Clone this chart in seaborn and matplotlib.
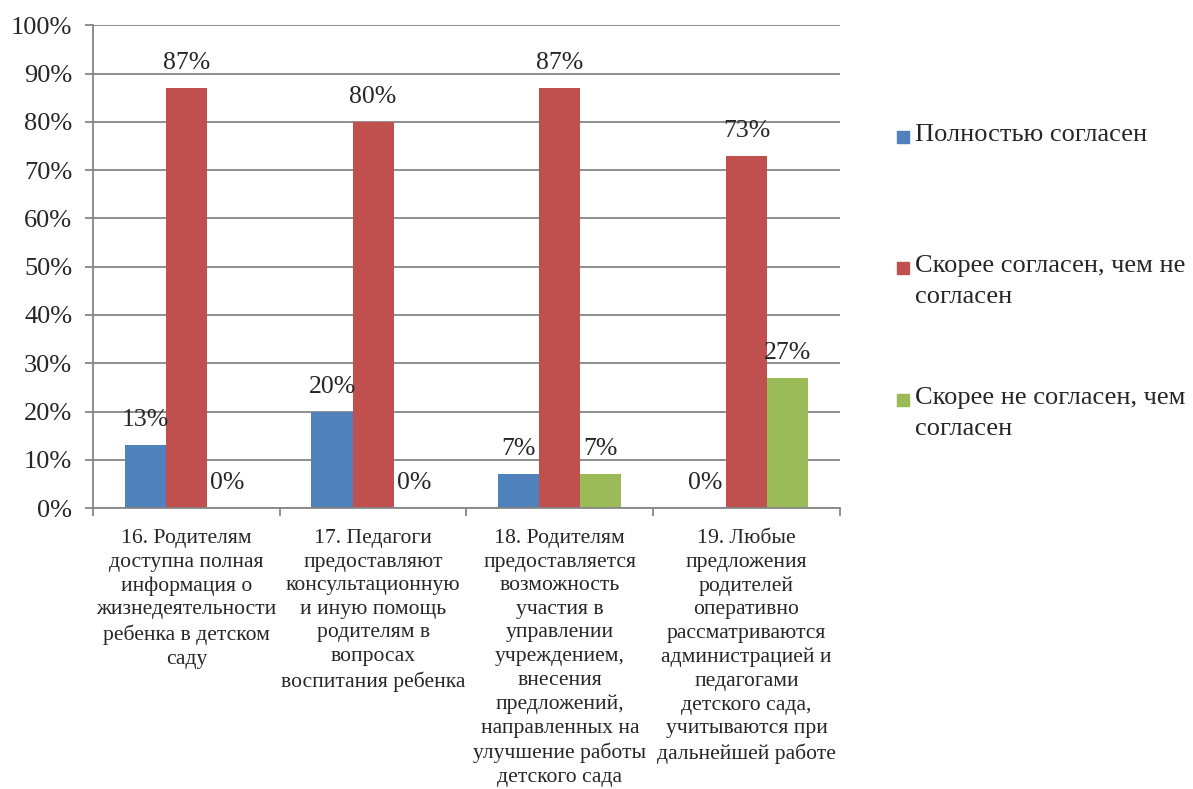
import matplotlib.pyplot as plt
import pandas as pd
import seaborn as sns
from matplotlib.patches import Rectangle
from matplotlib.ticker import FixedLocator, FuncFormatter

categories = [
    "16. Родителям\nдоступна полная\nинформация о\nжизнедеятельности\nребенка в детском\nсаду",
    "17. Педагоги\nпредоставляют\nконсультационную\nи иную помощь\nродителям в\nвопросах\nвоспитания ребенка",
    "18. Родителям\nпредоставляется\nвозможность\nучастия в\nуправлении\nучреждением,\nвнесения\nпредложений,\nнаправленных на\nулучшение работы\nдетского сада",
    "19. Любые\nпредложения\nродителей\nоперативно\nрассматриваются\nадминистрацией и\nпедагогами\nдетского сада,\nучитываются при\nдальнейшей работе",
]
series_names = [
    "Полностью согласен",
    "Скорее согласен, чем не\nсогласен",
    "Скорее не согласен, чем\nсогласен",
]
fully_agree = [13, 20, 7, 0]
rather_agree = [87, 80, 87, 73]
rather_disagree = [0, 0, 7, 27]
colors = ["#4F81BD", "#C0504D", "#9BBB59"]

df = pd.DataFrame({
    "category": categories * 3,
    "series": [series_names[0]] * 4 + [series_names[1]] * 4 + [series_names[2]] * 4,
    "value": fully_agree + rather_agree + rather_disagree,
})

sns.set_style("white")
plt.rcParams["font.family"] = ["Liberation Serif", "DejaVu Serif"]

fig = plt.figure(figsize=(11.93, 7.89), dpi=100)
ax = fig.add_axes([0.078, 0.356, 0.626, 0.612])

sns.barplot(
    data=df, x="category", y="value", hue="series",
    palette=colors, width=0.66, gap=0, linewidth=0, saturation=1,
    legend=False, ax=ax,
)

for container in ax.containers:
    ax.bar_label(container, labels=[f"{v:.0f}%" for v in container.datavalues],
                 padding=10, fontsize=18.5)

ax.set_ylim(0, 100)
ax.set_xlim(-0.5, 3.5)
ax.set_yticks(range(0, 101, 10))
ax.yaxis.set_major_formatter(FuncFormatter(lambda v, _: f"{v:.0f}%"))
ax.yaxis.grid(True, color="#868686", linewidth=1.3)
ax.set_axisbelow(True)
ax.tick_params(axis="y", labelsize=19, length=6, width=1.3, color="#868686",
               left=True, pad=9)

ax.xaxis.set_major_locator(FixedLocator([-0.5, 0.5, 1.5, 2.5, 3.5]))
ax.xaxis.set_minor_locator(FixedLocator([0, 1, 2, 3]))
ax.set_xticklabels([], minor=False)
ax.set_xticklabels(categories, minor=True, fontsize=15.6, linespacing=1.33)
ax.tick_params(axis="x", which="major", length=6, width=1.3, color="#868686", bottom=True)
ax.tick_params(axis="x", which="minor", length=0, pad=15)
ax.set_xlabel("")
ax.set_ylabel("")

for side in ["top", "right"]:
    ax.spines[side].set_visible(False)
for side in ["left", "bottom"]:
    ax.spines[side].set_color("#868686")
    ax.spines[side].set_linewidth(1.3)

# legend drawn by hand so that the swatch sits next to the first line
W, H = 1193, 789
legend_rows = [137, 268, 400]
for name, color, yc in zip(series_names, colors, legend_rows):
    fig.patches.append(Rectangle((897 / W, 1 - (yc + 6) / H), 12 / W, 12 / H,
                                 transform=fig.transFigure, color=color))
    fig.text(915 / W, 1 - (yc - 13) / H, name, fontsize=19, va="top", ha="left",
             linespacing=1.55)

fig.savefig("out.png", dpi=100)
